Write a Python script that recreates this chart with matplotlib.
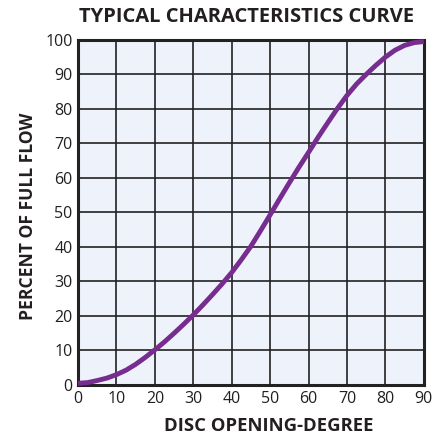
import matplotlib
matplotlib.use("Agg")
import matplotlib.pyplot as plt

# values (every 2.5 degrees)
opening_deg = [0, 2.5, 5, 7.5, 10, 12.5, 15, 17.5, 20, 22.5, 25, 27.5, 30, 32.5, 35, 37.5,
               40, 42.5, 45, 47.5, 50, 52.5, 55, 57.5, 60, 62.5, 65, 67.5, 70, 72.5, 75,
               77.5, 80, 82.5, 85, 87.5, 90]
percent_flow = [0.5, 0.7, 1.3, 2.0, 3.0, 4.3, 6.0, 8.0, 10.2, 12.5, 15.0, 17.6, 20.3, 23.2,
                26.2, 29.3, 32.6, 36.3, 40.2, 44.7, 49.3, 54.0, 58.6, 63.1, 67.4, 71.8,
                76.0, 80.1, 83.9, 87.2, 90.0, 92.6, 95.0, 97.0, 98.4, 99.2, 99.5]
x_ticks = list(range(0, 91, 10))
y_ticks = list(range(0, 101, 10))

plt.rcParams['font.family'] = ['Open Sans', 'DejaVu Sans']
txt = '#231F20'

fig = plt.figure(figsize=(4.41, 4.38), dpi=100)
ax = fig.add_axes([0.177, 0.121, 0.784, 0.788])
ax.set_facecolor('#EEF3FB')

ax.plot(opening_deg, percent_flow, color='#772D8F', linewidth=3.5,
        solid_capstyle='butt', solid_joinstyle='round', zorder=3, clip_on=False)

ax.set_xlim(0, 90)
ax.set_ylim(0, 100)
ax.set_xticks(x_ticks)
ax.set_yticks(y_ticks)
ax.grid(True, color='#222222', linewidth=1.2, zorder=1)
ax.set_axisbelow(True)
ax.tick_params(length=0, labelsize=11.5, colors=txt, pad=4)
for s in ax.spines.values():
    s.set_linewidth(2.2)
    s.set_color('#222222')

fig.text(0.558, 0.962, 'TYPICAL CHARACTERISTICS CURVE', ha='center', va='center',
         fontsize=14.5, fontweight='bold', color=txt)
ax.set_xlabel('DISC OPENING-DEGREE', fontsize=13.3, fontweight='bold', color=txt)
ax.xaxis.set_label_coords(0.552, -0.092)
ax.set_ylabel('PERCENT OF FULL FLOW', fontsize=12.6, fontweight='bold', color=txt)
ax.yaxis.set_label_coords(-0.12, 0.488)

fig.savefig('out.png', dpi=100)
